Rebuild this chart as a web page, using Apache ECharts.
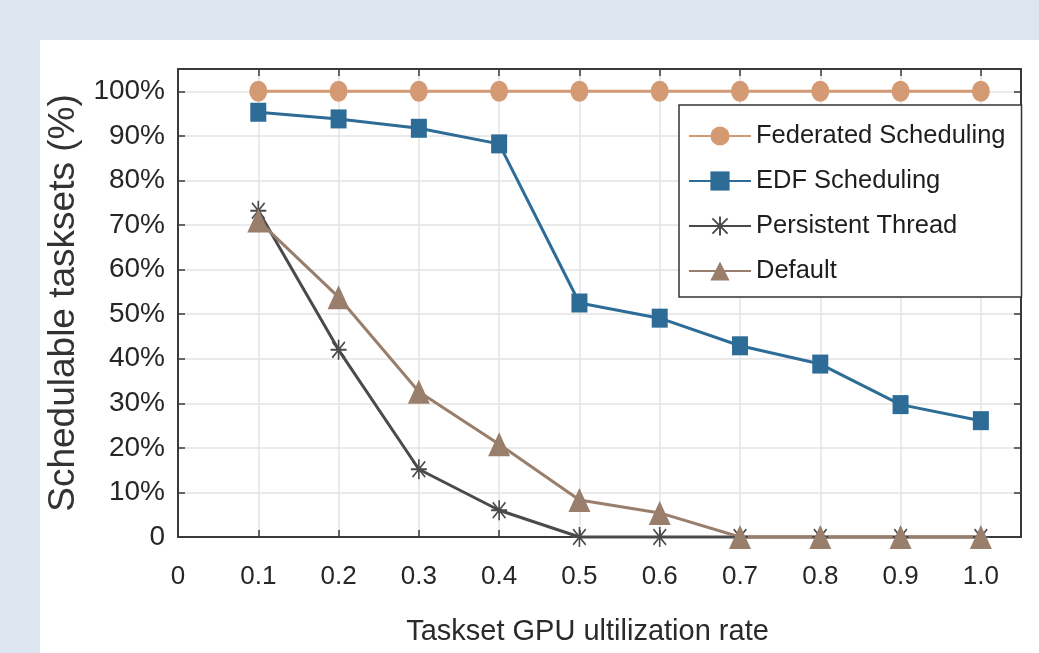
<!DOCTYPE html>
<html>
<head>
<meta charset="utf-8">
<script src="https://cdn.jsdelivr.net/npm/echarts@6/dist/echarts.min.js"></script>
<style>
html,body{margin:0;padding:0;background:#dce5f0;}
#main{width:1039px;height:653px;}
</style>
</head>
<body>
<div id="main"></div>
<script>
const xValues = [0.1, 0.2, 0.3, 0.4, 0.5, 0.6, 0.7, 0.8, 0.9, 1.0];
const federated = [100, 100, 100, 100, 100, 100, 100, 100, 100, 100];
const edf = [95.3, 93.8, 91.7, 88.2, 52.5, 49.1, 42.9, 38.8, 29.7, 26.1];
const persistent = [73.2, 42.0, 15.2, 6.0, 0, 0, 0, 0, 0, 0];
const defaultSched = [71.0, 53.8, 32.6, 20.8, 8.3, 5.4, 0, 0, 0, 0];
const xTickLabels = ['0', '0.1', '0.2', '0.3', '0.4', '0.5', '0.6', '0.7', '0.8', '0.9', '1.0'];
const yTickLabels = ['0', '10%', '20%', '30%', '40%', '50%', '60%', '70%', '80%', '90%', '100%'];
const seriesNames = ['Federated Scheduling', 'EDF Scheduling', 'Persistent Thread', 'Default'];

const pair = (arr) => xValues.map((x, i) => [x, arr[i]]);
const FONT = "'Liberation Sans', Arial, sans-serif";
const asterisk = 'path://M9 0h2v20h-2z M0 9h20v2h-20z M1.4 2.8L2.8 1.4L18.6 17.2L17.2 18.6Z M17.2 1.4L18.6 2.8L2.8 18.6L1.4 17.2Z';

const chart = echarts.init(document.getElementById('main'));
const axisLine = {show: true, onZero: false, lineStyle: {color: '#3a3a3a', width: 2}};
const tickStyle = {show: true, inside: true, length: 7, lineStyle: {color: '#3a3a3a', width: 1.5}};
const gridLine = {show: true, lineStyle: {color: '#e3e3e3', width: 1.5}};

chart.setOption({
  backgroundColor: 'transparent',
  animation: false,
  graphic: [{type: 'rect', z: -10, shape: {x: 40, y: 40, width: 1000, height: 614}, style: {fill: '#ffffff'}}],
  grid: {left: 178, top: 69, right: 18, bottom: 116},
  legend: {
    orient: 'vertical', left: 679, top: 105,
    padding: [18, 16, 13, 9], itemGap: 19, itemWidth: 62, itemHeight: 24,
    backgroundColor: '#ffffff', borderColor: '#333', borderWidth: 1.5, borderRadius: 0,
    data: seriesNames,
    textStyle: {fontFamily: FONT, fontSize: 25.5, color: '#1e1e1e', lineHeight: 26}
  },
  xAxis: [{
    type: 'value', min: 0, max: 1.05, interval: 0.1,
    name: 'Taskset GPU ultilization rate', nameLocation: 'middle', nameGap: 80,
    nameTextStyle: {fontFamily: FONT, fontSize: 29, color: '#2a2a2a', padding: [0, 24, 0, 0]},
    axisLine: axisLine, axisTick: tickStyle, splitLine: gridLine,
    axisLabel: {margin: 27, fontFamily: FONT, fontSize: 26, color: '#262626', showMaxLabel: false,
      formatter: (v) => { const i = Math.round(v * 10); return (i >= 0 && i < xTickLabels.length && Math.abs(v*10 - i) < 1e-6) ? xTickLabels[i] : ''; }}
  }, {
    type: 'value', position: 'top', min: 0, max: 1.05, interval: 0.1,
    axisLine: axisLine, axisTick: tickStyle, splitLine: {show: false}, axisLabel: {show: false}
  }],
  yAxis: [{
    type: 'value', min: 0, max: 105, interval: 10,
    name: 'Schedulable tasksets (%)', nameLocation: 'middle', nameGap: 92,
    nameTextStyle: {fontFamily: FONT, fontSize: 37, color: '#333333'},
    axisLine: axisLine, axisTick: tickStyle, splitLine: gridLine,
    axisLabel: {margin: 13, fontFamily: FONT, fontSize: 28, color: '#262626', showMaxLabel: false,
      formatter: (v) => { const i = Math.round(v / 10); return (i >= 0 && i < yTickLabels.length && Math.abs(v - i*10) < 1e-6) ? yTickLabels[i] : ''; }}
  }, {
    type: 'value', position: 'right', min: 0, max: 105, interval: 10,
    axisLine: axisLine, axisTick: tickStyle, splitLine: {show: false}, axisLabel: {show: false}
  }],
  series: [
    {name: seriesNames[0], type: 'line', data: pair(federated), clip: false,
      symbol: 'circle', symbolSize: [18, 21], itemStyle: {color: '#d49a74'},
      lineStyle: {color: '#d49a74', width: 3}},
    {name: seriesNames[1], type: 'line', data: pair(edf), clip: false,
      symbol: 'rect', symbolSize: [16, 19], itemStyle: {color: '#2c6c96'},
      lineStyle: {color: '#2c6c96', width: 3}},
    {name: seriesNames[2], type: 'line', data: pair(persistent), clip: false,
      symbol: asterisk, symbolSize: [16, 20], itemStyle: {color: '#4a4a4a'},
      lineStyle: {color: '#4a4a4a', width: 3}},
    {name: seriesNames[3], type: 'line', data: pair(defaultSched), clip: false,
      symbol: 'triangle', symbolSize: [22, 24], itemStyle: {color: '#9a7e6c'},
      lineStyle: {color: '#9a7e6c', width: 3}}
  ]
});
</script>
</body>
</html>
